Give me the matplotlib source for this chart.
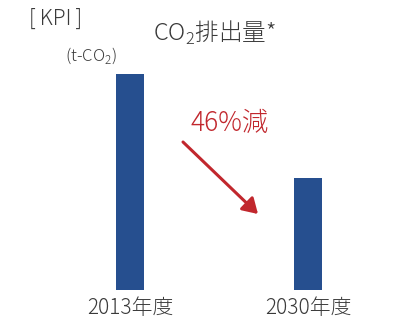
import matplotlib
matplotlib.use("Agg")
import matplotlib.pyplot as plt
from matplotlib.patches import FancyArrowPatch

plt.rcParams['font.family'] = ['Noto Sans CJK JP', 'DejaVu Sans']
plt.rcParams['mathtext.fontset'] = 'custom'
plt.rcParams['mathtext.rm'] = 'Noto Sans CJK JP:light'

years = ["2013年度", "2030年度"]
emissions = [100, 52]          # index, 2013 = 100
reduction_label = "46%減"

bar_color = "#264f8f"
red = "#c1272d"
text_color = "#3a3a3a"

fig = plt.figure(figsize=(3.96, 3.22), dpi=100)
ax = fig.add_axes([0, 32 / 322, 1, 216 / 322])

pos = range(len(years))
ax.bar(pos, emissions, width=0.157, color=bar_color)
ax.set_xlim(-0.73, 1.494)
ax.set_ylim(0, 100)
ax.axis('off')

for p, y in zip(pos, years):
    ax.text(p, -8.5, y, ha='center', va='center', fontsize=15,
            color=text_color, fontweight='light')

fig.text(56 / 396, 1 - 19 / 322, "[\u2009KPI\u2009]", ha='center', va='center',
         fontsize=15, color=text_color, fontweight='light')
fig.text(91 / 396, 1 - 56 / 322, r"(t-CO$_\mathrm{2}$)", ha='center', va='center',
         fontsize=12, color=text_color, fontweight='light')
fig.text(215 / 396, 1 - 33 / 322, r"CO$_\mathrm{2}$排出量*", ha='center', va='center',
         fontsize=17, color=text_color, fontweight='light')
fig.text(230 / 396, 1 - 123 / 322, reduction_label, ha='center', va='center', fontsize=19,
         color=red, fontweight='light')

fig.add_artist(FancyArrowPatch(
    (183 / 396, 1 - 142 / 322), (258 / 396, 1 - 214 / 322),
    transform=fig.transFigure, arrowstyle='-|>,head_length=9,head_width=5.5',
    color=red, linewidth=2.2, shrinkA=0, shrinkB=0))

fig.savefig("out.png", dpi=100)
